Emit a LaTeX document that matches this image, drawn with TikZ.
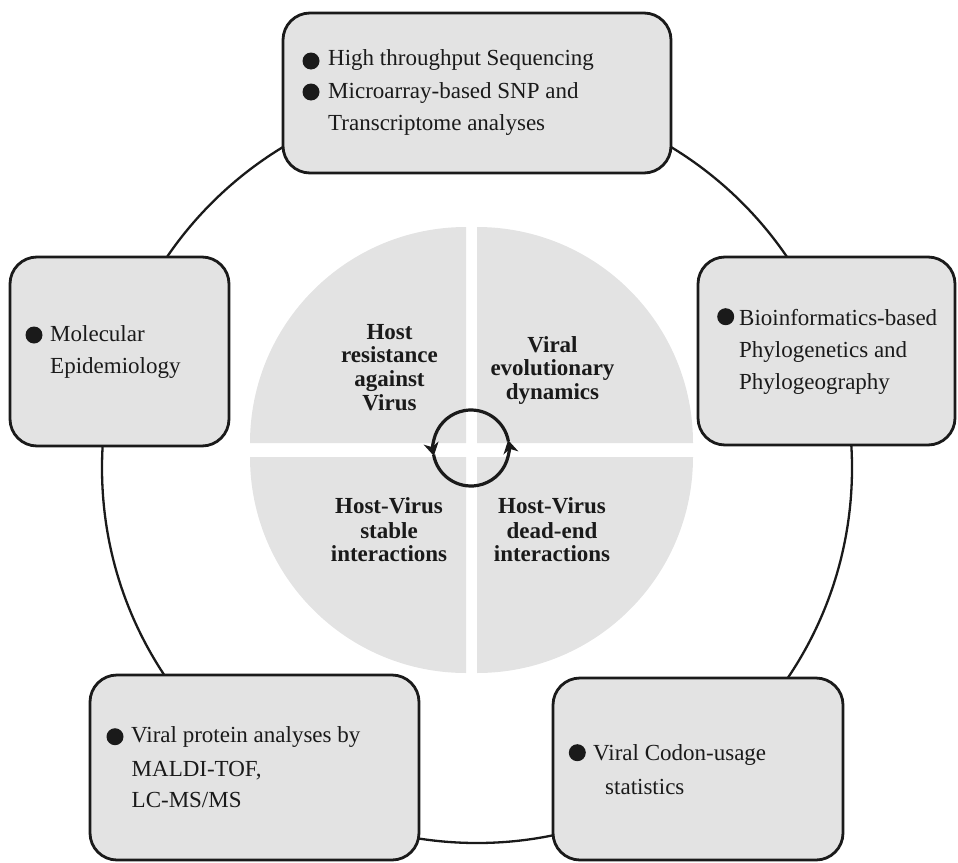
\documentclass[tikz,border=0pt]{standalone}
\usepackage{fontspec}
\setmainfont{Liberation Serif}
\usetikzlibrary{arrows.meta,calc}
\definecolor{boxgray}{HTML}{E3E3E3}
\definecolor{ink}{HTML}{1A1A1A}
\tikzset{
  boxst/.style={draw=ink, line width=2.8pt, fill=boxgray, rounded corners=27pt, inner sep=0pt},
  boxtxt/.style={anchor=base west, inner sep=0pt, text=ink, font=\fontsize{23}{28}\selectfont},
  ctrtxt/.style={anchor=base, inner sep=0pt, text=ink, font=\bfseries\fontsize{23}{28}\selectfont},
  bul/.style={circle, fill=ink, minimum size=17pt, inner sep=0pt},
  quad/.style={fill=boxgray},
  cyc/.style={draw=ink, line width=3.2pt},
  cyctip/.style={-{Stealth[length=13pt,width=15pt,inset=4pt]}}
}
\begin{document}
\begin{tikzpicture}[x=1pt,y=-1pt]
\useasboundingbox (0,0) rectangle (958,862);
% outer ring
\draw[ink, line width=2.3pt] (477,468) circle[radius=375];
% central quadrants
\fill[quad] (466,443) -- (250,443) arc[start angle=180,end angle=270,radius=216] -- cycle;
\fill[quad] (477,443) -- (477,227) arc[start angle=270,end angle=360,radius=216] -- cycle;
\fill[quad] (466,457) -- (250,457) arc[start angle=180,end angle=90,radius=216] -- cycle;
\fill[quad] (477,457) -- (693,457) arc[start angle=0,end angle=90,radius=216] -- cycle;
% cycle arrows
\coordinate (cc) at (471,448);
\draw[cyc, cyctip] ($(cc)+(-10:38)$) arc[start angle=-10,end angle=-192,radius=38];
\draw[cyc, cyctip] ($(cc)+(170:38)$) arc[start angle=170,end angle=-12,radius=38];
% central texts
\node[ctrtxt] (q1a) at (389.5,339.3) {Host};
\node[ctrtxt] (q1b) at (389.5,362.7) {resistance};
\node[ctrtxt] (q1c) at (389.5,386.3) {against};
\node[ctrtxt] (q1d) at (389.5,410.3) {Virus};
\node[ctrtxt] (q2a) at (552.5,352.3) {Viral};
\node[ctrtxt] (q2b) at (552.5,375.7) {evolutionary};
\node[ctrtxt] (q2c) at (552.5,399.3) {dynamics};
\node[ctrtxt] (q3a) at (389,513.3) {Host-Virus};
\node[ctrtxt] (q3b) at (389,538) {stable};
\node[ctrtxt] (q3c) at (389,561.7) {interactions};
\node[ctrtxt] (q4a) at (552,513.3) {Host-Virus};
\node[ctrtxt] (q4b) at (552,538) {dead-end};
\node[ctrtxt] (q4c) at (552,561.7) {interactions};
% boxes
\node[boxst, minimum width=388pt, minimum height=160pt] (top) at (477,93) {};
\node[boxst, minimum width=219pt, minimum height=189pt] (left) at (119.5,351.5) {};
\node[boxst, minimum width=257pt, minimum height=188pt] (right) at (826.5,351) {};
\node[boxst, minimum width=329pt, minimum height=185pt] (bl) at (254.5,767.5) {};
\node[boxst, minimum width=290pt, minimum height=182pt] (br) at (698,769) {};
% top box text
\node[bul] (tb1) at (311,61) {};
\node[boxtxt] (t1) at (328,65.7) {High throughput Sequencing};
\node[bul] (tb2) at (311,92) {};
\node[boxtxt] (t2) at (328,98.7) {Microarray-based SNP and};
\node[boxtxt] (t3) at (328,130.7) {Transcriptome analyses};
% left box text
\node[bul] (lb1) at (34,335) {};
\node[boxtxt] (l1) at (50,341.7) {Molecular};
\node[boxtxt] (l2) at (50,373.3) {Epidemiology};
% right box text
\node[bul] (rb1) at (725.7,316.7) {};
\node[boxtxt] (r1) at (739,325) {Bioinformatics-based};
\node[boxtxt] (r2) at (739,357.3) {Phylogenetics and};
\node[boxtxt] (r3) at (739,389) {Phylogeography};
% bottom-left box text
\node[bul] (blb1) at (115,736.7) {};
\node[boxtxt] (bl1) at (131,742.3) {Viral protein analyses by};
\node[boxtxt] (bl2) at (131.5,776.7) {MALDI-TOF,};
\node[boxtxt] (bl3) at (131.5,807.7) {LC-MS/MS};
% bottom-right box text
\node[bul] (brb1) at (577.3,752.7) {};
\node[boxtxt] (br1) at (593,760.7) {Viral Codon-usage};
\node[boxtxt] (br2) at (605,794) {statistics};
\end{tikzpicture}
\end{document}
